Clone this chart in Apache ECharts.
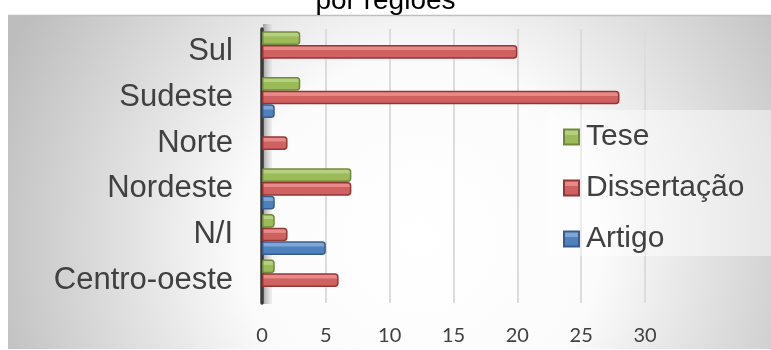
<!DOCTYPE html>
<html>
<head>
<meta charset="utf-8">
<script src="https://cdn.jsdelivr.net/npm/echarts@6/dist/echarts.min.js"></script>
<style>
  html, body { margin: 0; padding: 0; background: #ffffff; }
  #chart { width: 771px; height: 350px; }
</style>
</head>
<body>
<div id="chart"></div>
<script>
// Regions, listed bottom to top on the category axis
const regioes = ['Centro-oeste', 'N/I', 'Nordeste', 'Norte', 'Sudeste', 'Sul'];

// Number of works per region and type
const tese        = [1, 1, 7, 0, 3, 3];
const dissertacao = [6, 2, 7, 2, 28, 20];
const artigo      = [0, 5, 1, 0, 1, 0];

const xTicks = [0, 5, 10, 15, 20, 25, 30];

const FONT = '"Liberation Sans", Arial, sans-serif';
const TICK_FONT = 'Lato, "Open Sans", sans-serif';

function barStyle(top, bottom, border) {
  return {
    color: {
      type: 'linear', x: 0, y: 0, x2: 0, y2: 1,
      colorStops: [
        { offset: 0, color: top },
        { offset: 0.35, color: top },
        { offset: 0.4, color: bottom },
        { offset: 1, color: bottom }
      ]
    },
    borderColor: border,
    borderWidth: 1.5,
    borderRadius: [0, 3, 3, 0]
  };
}

// Zero counts keep their value but draw no outline sliver on the axis
function barData(values) {
  return values.map(v => v === 0
    ? { value: v, itemStyle: { opacity: 0 } }
    : v);
}

const chart = echarts.init(document.getElementById('chart'), null, { renderer: 'canvas' });

chart.setOption({
  animation: false,
  backgroundColor: '#ffffff',
  graphic: [
    {
      type: 'rect',
      z: -10,
      shape: { x: 8, y: 15, width: 763, height: 334 },
      style: {
        fill: {
          type: 'radial', x: 0.54, y: 0.67, r: 1.35,
          colorStops: [
            { offset: 0, color: '#ffffff' },
            { offset: 0.4, color: '#fbfbfb' },
            { offset: 1, color: '#bdbdbd' }
          ]
        },
        stroke: null
      }
    },
    {
      type: 'line',
      z: -9,
      shape: { x1: 8, y1: 15.5, x2: 771, y2: 15.5 },
      style: { stroke: '#bfbfbf', lineWidth: 1.5 }
    },
    {
      type: 'rect',
      z: -8,
      shape: { x: 263, y: 24, width: 9, height: 280 },
      style: {
        fill: {
          type: 'linear', x: 0, y: 0, x2: 1, y2: 0,
          colorStops: [
            { offset: 0, color: 'rgba(140,140,140,0.8)' },
            { offset: 1, color: 'rgba(200,200,200,0.2)' }
          ]
        }
      }
    }
  ],
  title: {
    text: 'por regiões',
    left: 'center',
    top: -13,
    padding: 0,
    textStyle: { fontFamily: FONT, fontSize: 28, fontWeight: 'normal', color: '#000000' }
  },
  legend: {
    orient: 'vertical',
    left: 548,
    top: 110,
    data: ['Tese', 'Dissertação', 'Artigo'],
    itemWidth: 15,
    itemHeight: 15,
    itemGap: 21,
    padding: [12, 30, 2, 15],
    backgroundColor: 'rgba(255,255,255,0.45)',
    textStyle: { fontFamily: FONT, fontSize: 30, color: '#404040', padding: [0, 0, 0, 2] },
    icon: 'rect'
  },
  grid: { left: 262, right: 126, top: 29, bottom: 47, containLabel: false },
  xAxis: {
    type: 'value',
    min: xTicks[0],
    max: xTicks[xTicks.length - 1],
    interval: 5,
    axisLine: { show: false },
    axisTick: { show: false },
    axisLabel: { fontFamily: TICK_FONT, fontSize: 20, color: '#404040', margin: 23 },
    splitLine: { show: true, lineStyle: { color: '#dcdcdc', width: 2 } }
  },
  yAxis: {
    type: 'category',
    data: regioes,
    axisLine: { show: true, lineStyle: { color: '#3a3a3a', width: 3.5 } },
    axisTick: { show: false },
    axisLabel: { fontFamily: FONT, fontSize: 31, color: '#404040', margin: 29 }
  },
  series: [
    {
      name: 'Tese', type: 'bar', data: barData(tese),
      barGap: '0%', barCategoryGap: '10%',
      itemStyle: barStyle('#b5d07e', '#9bbb59', '#71893f')
    },
    {
      name: 'Dissertação', type: 'bar', data: barData(dissertacao),
      barGap: '0%', barCategoryGap: '10%',
      itemStyle: barStyle('#e88a88', '#cf6260', '#943634')
    },
    {
      name: 'Artigo', type: 'bar', data: barData(artigo),
      barGap: '0%', barCategoryGap: '10%',
      itemStyle: barStyle('#7fa6d6', '#4f81bd', '#385d8a')
    }
  ]
});
</script>
</body>
</html>
